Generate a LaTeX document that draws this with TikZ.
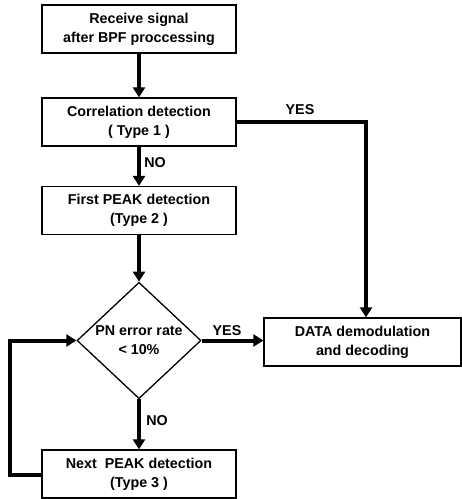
\documentclass[tikz,border=0pt]{standalone}
\usepackage{fontspec}
\setmainfont{Liberation Sans}
\usetikzlibrary{shapes.geometric,arrows.meta}
\begin{document}
\begin{tikzpicture}[x=1pt,y=-1pt,
  font=\bfseries\fontsize{14.3}{19}\selectfont,
  box/.style={draw,line width=1.3pt,minimum width=194pt,minimum height=48pt,align=center,inner sep=0pt},
  dia/.style={draw,line width=1.3pt,diamond,minimum width=124pt,minimum height=112pt,align=center,inner sep=0pt},
  flow/.style={line width=4pt,-{Triangle[length=10pt,width=12pt]}},
  lbl/.style={inner sep=0pt}]
\useasboundingbox (0,0) rectangle (462,499);
\node[box] (b1) at (139,29) {Receive signal\\after BPF proccessing};
\node[box] (b2) at (139,122) {Correlation detection\\( Type 1 )};
\node[box] (b3) at (139,210.5) {First PEAK detection\\(Type 2 )};
\node[dia] (d) at (139,340.5) {PN error rate\\< 10\%};
\node[box,minimum width=197pt] (data) at (362.5,342) {DATA demodulation\\and decoding};
\node[box] (b4) at (139,474) {Next~~PEAK detection\\(Type 3 )};
\coordinate (c1) at (366,122);
\coordinate (l1) at (10,475);
\draw[flow] (b1) -- (b2);
\draw[flow] (b2) -- (b3);
\draw[flow] (b3) -- (d);
\draw[flow] (d) -- (b4);
\draw[flow] (d.east) -- (data.west |- d.east);
\draw[flow] (b2.east |- c1) -- (c1) -- (c1 |- data.north);
\draw[flow] (b4.west |- l1) -- (l1) -- (l1 |- d.west) -- (d.west);
\node[lbl] (y1) at (300,110) {YES};
\node[lbl] (n1) at (155,163) {NO};
\node[lbl] (y2) at (227,331) {YES};
\node[lbl] (n2) at (157,421) {NO};
\end{tikzpicture}
\end{document}
